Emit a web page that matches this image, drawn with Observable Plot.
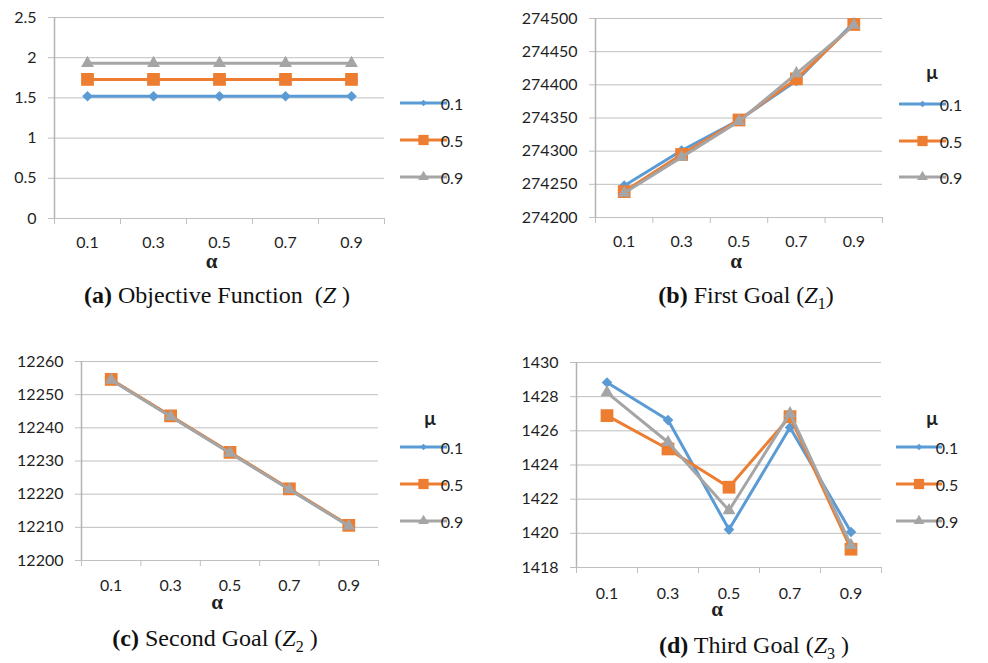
<!DOCTYPE html>
<html><head><meta charset="utf-8">
<script src="https://cdn.jsdelivr.net/npm/d3@7"></script>
<script src="https://cdn.jsdelivr.net/npm/@observablehq/plot@0.6"></script>
<style>
body{margin:0;background:#fff;}
#root{position:relative;width:988px;height:663px;overflow:hidden;background:#fff;}
.panel{position:absolute;}
.cap{position:absolute;font-family:"Liberation Serif","Times New Roman",serif;font-size:24px;color:#111;white-space:nowrap;transform:translate(-50%,-50%);}
.cap b{font-weight:bold}
.cap i{font-style:italic}
.cap sub{font-size:16px;vertical-align:-6px;font-style:normal;line-height:0}
</style></head><body><div id="root"></div>
<script>
// ---- data ----
const alpha = [0.1, 0.3, 0.5, 0.7, 0.9];
const alphaBounds = [0, 0.2, 0.4, 0.6, 0.8, 1];
const muLabels = ["0.1", "0.5", "0.9"];
const seriesColors = ["#5b9bd5", "#ed7d31", "#a5a5a5"];

// (a) Objective function Z
const zMu01 = [1.52, 1.52, 1.52, 1.52, 1.52];
const zMu05 = [1.73, 1.73, 1.73, 1.73, 1.73];
const zMu09 = [1.93, 1.93, 1.93, 1.93, 1.93];
const zTicks = [0, 0.5, 1, 1.5, 2, 2.5];

// (b) First goal Z1
const z1Mu01 = [274248, 274301, 274347, 274406, 274494];
const z1Mu05 = [274239, 274295, 274347, 274409, 274491];
const z1Mu09 = [274237, 274291, 274345, 274417, 274490];
const z1Ticks = [274200, 274250, 274300, 274350, 274400, 274450, 274500];

// (c) Second goal Z2
const z2Mu01 = [12254.5, 12243.5, 12232.5, 12221.5, 12210.5];
const z2Mu05 = [12254.6, 12243.6, 12232.6, 12221.6, 12210.6];
const z2Mu09 = [12254.4, 12243.4, 12232.4, 12221.4, 12210.4];
const z2Ticks = [12200, 12210, 12220, 12230, 12240, 12250, 12260];

// (d) Third goal Z3
const z3Mu01 = [1428.83, 1426.63, 1420.22, 1426.2, 1420.08];
const z3Mu05 = [1426.89, 1424.94, 1422.7, 1426.83, 1419.07];
const z3Mu09 = [1428.24, 1425.33, 1421.34, 1427.02, 1419.3];
const z3Ticks = [1418, 1420, 1422, 1424, 1426, 1428, 1430];

// ---- drawing ----
const GRID = "#bfbfbf";
const TXT = "#1f1f1f";
const FONT = "Lato, 'Noto Sans', sans-serif";
const SERIF = "'Liberation Serif', 'Times New Roman', serif";
const markerSpec = [
  {symbol: "diamond2", r: 4.8},
  {symbol: "square", r: 7.2},
  {symbol: "triangle", r: 4.8}
];
const legendSym = [
  d3.symbol(d3.symbolDiamond2, 28),
  d3.symbol(d3.symbolSquare, 105),
  d3.symbol(d3.symbolTriangle, 50)
];

const root = document.getElementById("root");

function panel(o) {
  const series = o.series;
  const marks = [
    Plot.ruleY(o.ticks, {stroke: GRID, strokeWidth: 1}),
    Plot.axisY({ticks: o.ticks, tickSize: 6, tickPadding: 12, stroke: GRID, fill: TXT,
      tickFormat: d => String(d), label: null, fontSize: 16}),
    Plot.axisX({ticks: alphaBounds, tickSize: 6, tickFormat: () => "", stroke: GRID, label: null}),
    Plot.ruleX([0], {stroke: "#b3b3b3", strokeWidth: 1.5}),
    Plot.axisX({ticks: alpha, tickSize: 0, tickPadding: o.xPad, fill: TXT,
      tickFormat: d => String(d), label: null, fontSize: 16}),
    Plot.text(["α"], {frameAnchor: "bottom", dy: o.alphaDy, dx: o.alphaDx,
      fontWeight: "bold", fontSize: 21, fill: TXT, fontFamily: SERIF})
  ];
  series.forEach((vals, si) => {
    const rows = vals.map((v, i) => ({alpha: alpha[i], value: v, mu: muLabels[si]}));
    marks.push(Plot.line(rows, {x: "alpha", y: "value", stroke: seriesColors[si], strokeWidth: 3,
      strokeLinejoin: "round"}));
    marks.push(Plot.dot(rows, {x: "alpha", y: "value", fill: seriesColors[si],
      symbol: markerSpec[si].symbol, r: markerSpec[si].r, stroke: "none"}));
  });
  const chart = Plot.plot({
    width: o.width, height: o.height,
    marginTop: o.mt, marginBottom: o.mb, marginLeft: o.ml, marginRight: o.mr,
    style: {fontFamily: FONT, fontSize: "16px", background: "transparent", color: TXT},
    x: {type: "linear", domain: [0, 1], axis: null},
    y: {type: "linear", domain: [o.ticks[0], o.ticks[o.ticks.length - 1]], axis: null},
    marks
  });
  chart.classList.add("panel");
  chart.style.left = o.left + "px";
  chart.style.top = o.top + "px";
  root.appendChild(chart);

  // legend
  const svg = d3.select(chart);
  const g = svg.append("g");
  if (o.muTitle) {
    g.append("text").attr("x", o.muX).attr("y", o.muY).attr("text-anchor", "middle")
      .attr("dominant-baseline", "central").attr("font-weight", "bold").attr("font-size", 19)
      .attr("font-family", FONT).attr("fill", TXT).text("μ");
  }
  muLabels.forEach((lab, i) => {
    const y = o.legRows[i];
    g.append("line").attr("x1", o.legX1).attr("x2", o.legX2).attr("y1", y).attr("y2", y)
      .attr("stroke", seriesColors[i]).attr("stroke-width", 3);
    g.append("path").attr("d", legendSym[i]()).attr("transform", `translate(${(o.legX1 + o.legX2) / 2},${y})`)
      .attr("fill", seriesColors[i]);
    g.append("text").attr("x", o.legX2 + 5).attr("y", y).attr("dominant-baseline", "central")
      .attr("font-size", 16).attr("font-family", FONT).attr("fill", TXT).text(lab);
  });
}

panel({left: 0, top: 0, width: 494, height: 280, mt: 17, mb: 62, ml: 54, mr: 110,
  ticks: zTicks, series: [zMu01, zMu05, zMu09], xPad: 18, alphaDy: 49, alphaDx: -8,
  muTitle: false, legX1: 400, legX2: 447, legRows: [103, 140, 177]});

panel({left: 494, top: 0, width: 494, height: 280, mt: 18, mb: 63, ml: 101, mr: 106,
  ticks: z1Ticks, series: [z1Mu01, z1Mu05, z1Mu09], xPad: 18, alphaDy: 50, alphaDx: -3,
  muTitle: true, muX: 438, muY: 71, legX1: 405, legX2: 452, legRows: [104, 141, 177]});

panel({left: 0, top: 330, width: 494, height: 290, mt: 31, mb: 60, ml: 81, mr: 116,
  ticks: z2Ticks, series: [z2Mu01, z2Mu05, z2Mu09], xPad: 19, alphaDy: 48, alphaDx: -13,
  muTitle: true, muX: 430, muY: 87, legX1: 400, legX2: 447, legRows: [117, 154, 191]});

panel({left: 494, top: 330, width: 494, height: 300, mt: 32, mb: 63, ml: 82, mr: 107,
  ticks: z3Ticks, series: [z3Mu01, z3Mu05, z3Mu09], xPad: 20, alphaDy: 48, alphaDx: -12,
  muTitle: true, muX: 438, muY: 87, legX1: 402, legX2: 448, legRows: [117, 154, 191]});

// captions
const caps = [
  {x: 217, y: 295, html: "<b>(a)</b> Objective Function &nbsp;(<i>Z</i> )"},
  {x: 746, y: 295, html: "<b>(b)</b> First Goal (<i>Z</i><sub>1</sub>)"},
  {x: 215, y: 638, html: "<b>(c)</b> Second Goal (<i>Z</i><sub>2</sub> )"},
  {x: 754, y: 645, html: "<b>(d)</b> Third Goal (<i>Z</i><sub>3</sub> )"}
];
caps.forEach(c => {
  const d = document.createElement("div");
  d.className = "cap";
  d.style.left = c.x + "px";
  d.style.top = c.y + "px";
  d.innerHTML = c.html;
  root.appendChild(d);
});
</script></body></html>
